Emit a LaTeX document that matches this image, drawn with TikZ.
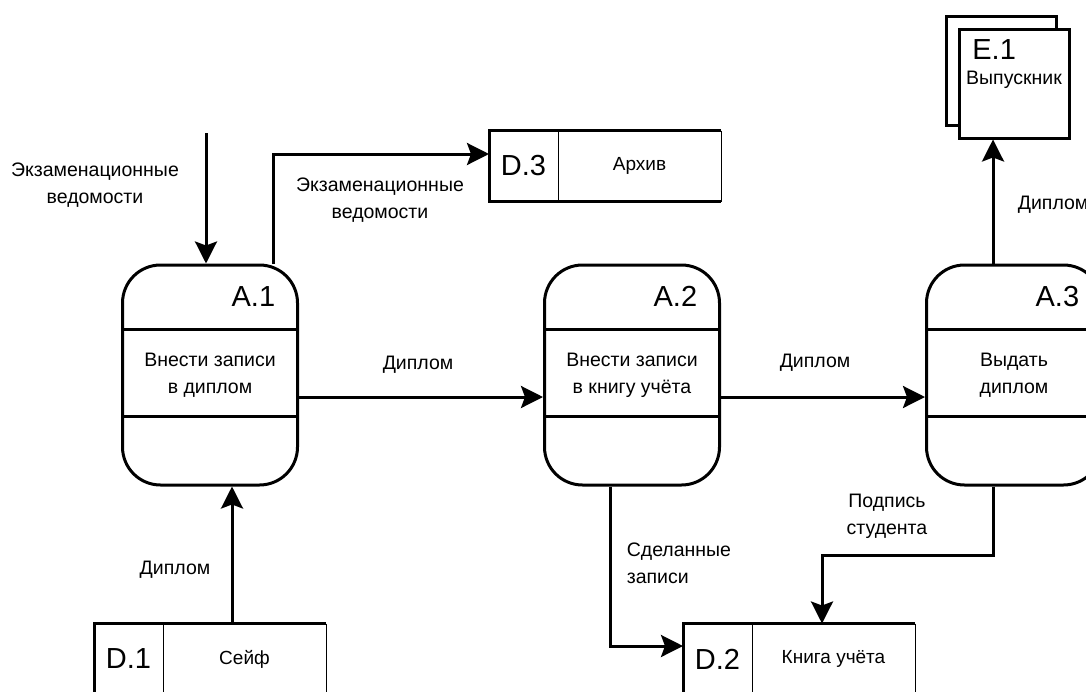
\documentclass[tikz,border=0pt]{standalone}
\usepackage{fontspec}
\setmainfont{Liberation Sans}
\usetikzlibrary{arrows.meta}
\usetikzlibrary{calc}
\usetikzlibrary{positioning}

\begin{document}
\begin{tikzpicture}[x=1pt,y=-1pt,->,>={Stealth[length=22pt,width=22pt,inset=4pt]},line width=3pt,font=\fontsize{19.5}{27}\selectfont]
 \tikzstyle{proc}=[-,draw, rounded corners=38pt, minimum width=175pt, minimum height=220pt, align=center, inner sep=0pt]
 \tikzstyle{pid}=[anchor=east, font=\fontsize{29}{32}\selectfont]
 \tikzstyle{sid}=[minimum width=69pt, minimum height=71pt, inner sep=0pt, outer sep=0pt, font=\fontsize{29}{32}\selectfont]
 \tikzstyle{sname}=[minimum width=163pt, minimum height=71pt, inner sep=0pt, outer sep=0pt, font=\fontsize{19}{22}\selectfont]
 \tikzstyle{ent}=[-,draw, fill=white, minimum width=110pt, minimum height=109pt, inner sep=0pt]
 \tikzstyle{lbl}=[align=center]
 \tikzstyle{sep}=[-]

 \clip (0,0) rectangle (1086,691);

 % processes
 \node[proc] (A1) at (210,375) {Внести записи\\в диплом};
 \node[proc] (A2) [right=244pt of A1] {Внести записи\\в книгу учёта};
 \node[proc] (A3) [right=204pt of A2] {Выдать\\диплом};
 \foreach \p/\t in {A1/A.1, A2/A.2, A3/A.3}{
   \draw[sep] ($(\p.north west)+(0,66)$) -- ($(\p.north east)+(0,66)$);
   \draw[sep] ($(\p.north west)+(0,153)$) -- ($(\p.north east)+(0,153)$);
   \node[pid] at ($(\p.north east)+(-19,33)$) {\t};
 }

 % stores
 \node[sid] (D3) at (523.5,166) {D.3};
 \node[sname] (D3n) [right=0pt of D3] {Архив};
 \node[sid] (D1) at (128.5,659) {D.1};
 \node[sname] (D1n) [right=0pt of D1] {Сейф};
 \node[sid] (D2) at (717.5,659) {D.2};
 \node[sname] (D2n) [right=0pt of D2] {Книга учёта};
 \foreach \s in {D1, D2, D3}{
   \draw[sep] (\s n.north east) -- (\s.north west) -- (\s.south west) -- (\s n.south east);
   \draw[sep, line width=1pt] (\s.north east) -- (\s.south east) (\s n.north east) -- (\s n.south east);
 }

 % external entity
 \node[ent] (E1b) at (1001,70.5) {};
 \node[ent] (E1) at (1014,83.5) {};
 \node[anchor=west, font=\fontsize{29}{32}\selectfont] (E1id) at ($(E1.north west)+(10,22)$) {E.1};
 \node[font=\fontsize{19.5}{22}\selectfont] (E1t) at ($(E1.north)+(0,52)$) {Выпускник};

 % flows
 \coordinate (in) at (206,133);
 \draw (in) -- (in |- A1.north);
 \coordinate (a1t) at ($(A1.north)+(63,0)$);
 \coordinate (d3l) at ($(D3.west)+(0,-12)$);
 \draw (a1t) |- (d3l);
 \draw ($(A1.east)+(0,22)$) -- ($(A2.west)+(0,22)$);
 \draw ($(A2.east)+(0,22)$) -- ($(A3.west)+(0,22)$);
 \coordinate (a3t) at ($(A3.north)+(-21,0)$);
 \draw (a3t) -- (a3t |- E1.south);
 \coordinate (d1t) at ($(D1.north east)+(69,0)$);
 \draw (d1t) -- (d1t |- A1.south);
 \coordinate (a2b) at ($(A2.south)+(-22,0)$);
 \coordinate (d2l) at ($(D2.west)+(0,-13)$);
 \draw (a2b) |- (d2l);
 \coordinate (a3b) at ($(A3.south)+(-21,0)$);
 \coordinate (d2t) at ($(D2n.north west)+(70,0)$);
 \draw (a3b) -- ++(0,69) -| (d2t);

 % labels
 \node[lbl] (l1) at (95,185) {Экзаменационные\\ведомости};
 \node[lbl] (l2) at (380,200) {Экзаменационные\\ведомости};
 \node (l3) at (418,365) {Диплом};
 \node (l4) at (815,363) {Диплом};
 \node[anchor=west] (l5) at (1013,205) {Диплом};
 \node (l6) at (175,570) {Диплом};
 \node[align=left, anchor=west] (l7) at (622,563) {Сделанные\\записи};
 \node[lbl] (l8) at (887,516) {Подпись\\студента};
\end{tikzpicture}
\end{document}
